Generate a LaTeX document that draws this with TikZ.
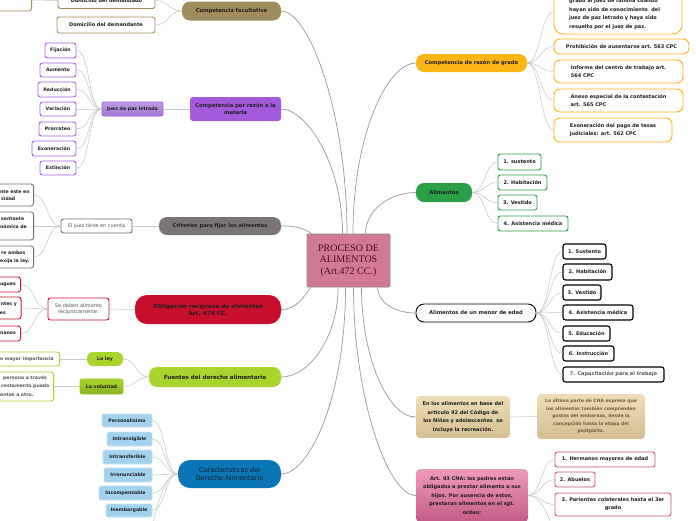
\documentclass[tikz,border=0pt]{standalone}
\usepackage{fontspec}
\setmainfont{DejaVu Sans}
\newfontfamily\cserif{Liberation Serif}
\usetikzlibrary{calc}
\definecolor{cbrown}{HTML}{A08B5D}
\definecolor{cpurple}{HTML}{A259DA}
\definecolor{cpurpleb}{HTML}{A95CEB}
\definecolor{jtop}{HTML}{BE9AE3}
\definecolor{jbot}{HTML}{A276D4}
\definecolor{cgray}{HTML}{7B7474}
\definecolor{cgrayb}{HTML}{6F6F6F}
\definecolor{ccrimson}{HTML}{C8102E}
\definecolor{clime}{HTML}{A9D42C}
\definecolor{climeb}{HTML}{9BC52A}
\definecolor{vtop}{HTML}{AAD52E}
\definecolor{vbot}{HTML}{88B420}
\definecolor{cblue}{HTML}{0B76B6}
\definecolor{clblue}{HTML}{A2D2EE}
\definecolor{clblueb}{HTML}{C5E3F4}
\definecolor{camber}{HTML}{FDB515}
\definecolor{cgreen}{HTML}{2A9F47}
\definecolor{tanA}{HTML}{EEDDB8}
\definecolor{tanB}{HTML}{D4BE92}
\definecolor{tantext}{HTML}{6E5B3C}
\definecolor{pinkA}{HTML}{EE9BBB}
\definecolor{pinkB}{HTML}{C45C87}
\definecolor{crose}{HTML}{C8546F}
\definecolor{cpink}{HTML}{D27A92}
\definecolor{cdarkred}{HTML}{4A0E1E}
\definecolor{cframe}{HTML}{8A8A8A}
\definecolor{mainlc}{HTML}{999999}
\definecolor{sublc}{HTML}{C8C8C8}
\definecolor{txt}{HTML}{1E1E1E}
\definecolor{txtg}{HTML}{555555}
\definecolor{navytxt}{HTML}{0E1C2C}
\newcommand\topicfont{\fontsize{5.2}{6.5}\selectfont\bfseries}
\newcommand\leaffont{\fontsize{5}{6.2}\selectfont\bfseries}
\newcommand\smleaf{\fontsize{4.7}{6}\selectfont\bfseries}
\newcommand\regfont{\fontsize{5}{6.5}\selectfont}
\newcommand\fragfont{\fontsize{4.6}{6}\selectfont\bfseries}
\tikzset{
  topic/.style={rounded corners=8pt, inner sep=1pt, font=\topicfont, text=txt},
  leaf/.style={draw, fill=white, rounded corners=2.5pt, line width=0.9pt, inner sep=1pt, font=\leaffont, text=txt},
  pleaf/.style={leaf, draw=cpurpleb, font=\smleaf},
  bleaf/.style={fill=clblue, draw=clblueb, rounded corners=1.5pt, line width=0.6pt, inner sep=1pt, font=\smleaf, text=txt},
  aleaf/.style={leaf, draw=camber, rounded corners=6pt},
  gleaf/.style={leaf, draw=cgreen},
  kleaf/.style={leaf, draw=black, line width=1.1pt},
  rleaf/.style={leaf, draw=crose},
  frag/.style={inner sep=0pt, font=\fragfont, text=txt, anchor=west},
  mainl/.style={draw=mainlc, line width=0.7pt},
  subl/.style={draw=sublc, line width=0.55pt},
}
\begin{document}
\begin{tikzpicture}[x=1pt,y=-1pt]
\useasboundingbox (0,0) rectangle (696,520);
\clip (0,0) rectangle (696,520);
\fill[white] (0,0) rectangle (696,520);

% central node
\node[draw=cframe, fill=cpink, line width=0.8pt, rounded corners=1pt, minimum width=83pt, minimum height=53pt, align=center, font=\cserif\fontsize{10}{11.5}\selectfont, text=cdarkred] (pa) at (348.5,260.5) {PROCESO DE\\ALIMENTOS\\(Art.472 CC.)};

% Competencia facultativa
\node[topic, fill=cbrown, minimum width=99pt, minimum height=19pt] (cf) at (231.5,11) {Competencia facultativa};
\node[leaf, draw=cbrown, minimum width=97pt, minimum height=16pt] (dda) at (106.5,0.5) {Domicilio del demandado};
\node[leaf, draw=cbrown, minimum width=98pt, minimum height=16pt] (dde) at (106,25) {Domicilio del demandante};
\node[leaf, draw=cbrown, minimum width=80pt, minimum height=22pt, anchor=east] (cfx) at (32,0) {};

% Competencia por razon a la materia
\node[topic, fill=cpurple, minimum width=91pt, minimum height=24pt, rounded corners=3pt, align=center] (cm) at (235.5,109) {Competencia por razón a la\\materia};
\node[draw=cpurpleb, line width=0.9pt, top color=jtop, bottom color=jbot, rounded corners=2pt, inner sep=1pt, font=\smleaf, text=txt, minimum width=61pt, minimum height=14pt] (jp) at (132.5,109) {Juez de paz letrado};
\node[pleaf, minimum width=31pt, minimum height=15pt] (fij) at (60.5,50.5) {Fijación};
\node[pleaf, minimum width=36pt, minimum height=14pt] (aum) at (58,70) {Aumento};
\node[pleaf, minimum width=38pt, minimum height=15pt] (red) at (57,89.5) {Reducción};
\node[pleaf, minimum width=36pt, minimum height=14pt] (var) at (58,109) {Variación};
\node[pleaf, minimum width=37pt, minimum height=14pt] (pro) at (57.5,129) {Prorrateo};
\node[pleaf, minimum width=44pt, minimum height=15pt] (exo) at (54,148.5) {Exoneración};
\node[pleaf, minimum width=36pt, minimum height=14pt] (ext) at (58,168) {Extinción};

% Criterios
\node[topic, fill=cgray, minimum width=122pt, minimum height=18pt] (cr) at (220,226) {Criterios para fijar los alimentos};
\node[leaf, draw=cgrayb, font=\regfont, text=txtg, minimum width=71pt, minimum height=14pt] (jc) at (96.5,226) {El juez tiene en cuenta};
\node[leaf, draw=cgrayb, minimum width=80pt, minimum height=22pt, anchor=east] (cr1) at (34,195) {};
\node[leaf, draw=cgrayb, minimum width=80pt, minimum height=28pt, anchor=east] (cr2) at (34,226) {};
\node[leaf, draw=cgrayb, minimum width=80pt, minimum height=22pt, anchor=east] (cr3) at (34,257) {};
\node[frag] (t11) at (0,191.5) {nte este en};
\node[frag] (t12) at (1,199) {sidad};
\node[frag] (t21) at (1,219) {sentante};
\node[frag] (t22) at (0,226.5) {nómica de};
\node[frag] (t31) at (1,253) {re ambos};
\node[frag] (t32) at (0,261) {exija la ley.};

% Obligacion
\node[topic, fill=ccrimson, minimum width=146pt, minimum height=29pt, rounded corners=12pt, align=center, font=\fontsize{5.7}{7.4}\selectfont\bfseries] (ob) at (208,309.5) {Obligación reciproca de alimentos\\Art. 474 CC.};
\node[leaf, draw=ccrimson, font=\regfont, text=txtg, minimum width=61pt, minimum height=22pt, align=center] (sd) at (78.5,309) {Se deben alimento\\reciprocamente:};
\node[leaf, draw=ccrimson, minimum width=60pt, minimum height=15pt, anchor=east] (ob1) at (21,284.5) {};
\node[leaf, draw=ccrimson, minimum width=60pt, minimum height=22pt, anchor=east] (ob2) at (21.5,308) {};
\node[leaf, draw=ccrimson, minimum width=60pt, minimum height=15pt, anchor=east] (ob3) at (21,333.5) {};
\node[frag, anchor=east] (u1) at (16,285) {ugues};
\node[frag, anchor=east] (u21) at (17,304) {ntes y};
\node[frag, anchor=east] (u22) at (6,313.5) {es};
\node[frag, anchor=east] (u3) at (16,333) {manos};

% Fuentes
\node[topic, fill=clime, minimum width=132pt, minimum height=20pt, font=\fontsize{5.6}{6.5}\selectfont\bfseries] (fu) at (215,377) {Fuentes del derecho alimentario};
\node[topic, fill=clime, rounded corners=6pt, minimum width=36pt, minimum height=14pt, font=\smleaf] (ley) at (105,359) {La ley};
\node[topic, draw=climeb, line width=0.6pt, top color=vtop, bottom color=vbot, rounded corners=2pt, minimum width=43pt, minimum height=15pt, font=\smleaf] (vol) at (101.5,386.5) {La voluntad};
\node[leaf, draw=clime, minimum width=80pt, minimum height=14pt, anchor=east] (fu1) at (60,359) {};
\node[leaf, draw=clime, minimum width=80pt, minimum height=29pt, anchor=east] (fu2) at (54,386.5) {};
\node[frag, text=txtg] (v1) at (0,359) {e mayor importancia};
\node[frag, text=txtg] (v21) at (3,378.5) {persona a través};
\node[frag, text=txtg] (v22) at (1,386.5) {cestamento pueda};
\node[frag, text=txtg] (v23) at (0,394.5) {entos a otro.};

% Caracteristicas
\node[topic, fill=cblue, minimum width=103pt, minimum height=28pt, rounded corners=12pt, align=center, font=\fontsize{6.6}{8.4}\selectfont, text=navytxt] (ca) at (229.5,474) {Caracteristicas del\\Derecho Alimentario};
\node[bleaf, minimum width=50pt, minimum height=13pt] (ca1) at (127,420.5) {Personalisimo};
\node[bleaf, minimum width=45pt, minimum height=14pt] (ca2) at (129.5,439) {Intransigible};
\node[bleaf, minimum width=49pt, minimum height=14pt] (ca3) at (127.5,457) {Intransferible};
\node[bleaf, minimum width=48pt, minimum height=14pt] (ca4) at (128,475) {Irrenunciable};
\node[bleaf, minimum width=53pt, minimum height=14pt] (ca5) at (125.5,493) {Incompensable};
\node[bleaf, minimum width=46pt, minimum height=13pt] (ca6) at (129,510.5) {Inembargable};
\coordinate (ca7) at (152,530);

% Competencia de razon de grado
\node[topic, fill=camber, minimum width=111pt, minimum height=18pt] (gr) at (471.5,63) {Competencia de razón de grado};
\node[aleaf, rounded corners=9pt, minimum width=128pt, minimum height=44pt] (gbig) at (618,12) {};
\node[inner sep=0pt, anchor=west, align=left, font=\fontsize{5}{8.67}\selectfont\bfseries, text=txt] (gbt) at (569,14) {grado al juez de familia cuando\\hayan sido de conocimiento\ \ del\\juez de paz letrado y haya sido\\resuelto por el juez de paz.};
\node[aleaf, minimum width=135pt, minimum height=15pt] (g1) at (621.5,46.5) {Prohibición de ausentarse art. 563 CPC};
\node[aleaf, minimum width=129pt, minimum height=23pt, align=left, font=\fontsize{5}{8}\selectfont\bfseries] (g2) at (618.5,71.5) {Informe del centro de trabajo art.\\564 CPC};
\node[aleaf, minimum width=129pt, minimum height=23pt, align=left, font=\fontsize{5}{8}\selectfont\bfseries] (g3) at (618.5,100.5) {Anexo especial de la contestación\\art. 565 CPC};
\node[aleaf, minimum width=118pt, minimum height=24pt, align=left, font=\fontsize{5}{8}\selectfont\bfseries] (g4) at (613,130) {Exoneración del pago de tasas\\judiciales: art. 562 CPC};

% Alimentos
\node[topic, fill=cgreen, minimum width=56pt, minimum height=19pt] (al) at (444,192.5) {Alimentos};
\node[gleaf, minimum width=43pt, minimum height=16pt] (al1) at (519.5,162) {1. sustento};
\node[gleaf, minimum width=49pt, minimum height=15pt] (al2) at (522.5,182.5) {2. Habitación};
\node[gleaf, minimum width=39pt, minimum height=15pt] (al3) at (517.5,202.5) {3. Vestido};
\node[gleaf, minimum width=70pt, minimum height=15pt] (al4) at (533,223.5) {4. Asistencia médica};

% Alimentos de un menor de edad
\node[topic, draw=black, fill=white, line width=0.9pt, minimum width=120pt, minimum height=18pt] (me) at (476,313) {Alimentos de un menor de edad};
\node[kleaf, minimum width=43pt, minimum height=15pt] (me1) at (584.5,251.5) {1. Sustento};
\node[kleaf, minimum width=49pt, minimum height=16pt] (me2) at (587.5,272) {2. Habitación};
\node[kleaf, minimum width=38pt, minimum height=15pt] (me3) at (582,292.5) {3. Vestido};
\node[kleaf, minimum width=70pt, minimum height=15pt] (me4) at (598,312.5) {4. Asistencia médica};
\node[kleaf, minimum width=47pt, minimum height=15pt] (me5) at (586.5,333.5) {5. Educación};
\node[kleaf, minimum width=51pt, minimum height=15pt] (me6) at (588.5,353.5) {6. Instrucción};
\node[kleaf, minimum width=101pt, minimum height=15pt, text=txtg] (me7) at (613.5,374.5) {7. Capacitación para el trabajo};

% Tan nodes
\node[topic, top color=tanA, bottom color=tanB, rounded corners=4pt, minimum width=94pt, minimum height=42pt, align=center, font=\fontsize{5}{8.6}\selectfont\bfseries] (en) at (463,417) {En los alimentos en base del\\artículo 92 del Código de\\los Niños y adolescentes\ \ se\\incluye la recreación.};
\node[topic, top color=tanA, bottom color=tanB, rounded corners=4pt, minimum width=108pt, minimum height=45pt, align=center, font=\fontsize{4.5}{7.5}\selectfont\bfseries, text=tantext] (lu) at (591,416.5) {La última parte de CNA expresa que\\los alimentos también comprenden\\gastos del embarazo, desde la\\concepción hasta la etapa del\\postparto.};

% Art 93
\node[topic, top color=pinkA, bottom color=pinkB, rounded corners=4pt, minimum width=112pt, minimum height=53pt, align=center, font=\fontsize{5}{8.5}\selectfont\bfseries] (a93) at (472,495.5) {Art. 93 CNA: los padres están\\obligados a prestar alimento a sus\\hijos. Por ausencia de estos,\\prestaran alimentos en el sgt.\\orden:};
\node[rleaf, minimum width=100pt, minimum height=15pt] (a1) at (605,459.5) {1. Hermanos mayores de edad};
\node[rleaf, minimum width=40pt, minimum height=15pt] (a2) at (575,479.5) {2. Abuelos};
\node[rleaf, minimum width=116pt, minimum height=23pt, align=center, font=\fontsize{5}{8}\selectfont\bfseries] (a3) at (613,504.5) {3. Parientes colaterales hasta el 3er\\grado};
\coordinate (a4) at (555,540);

% ---------- main connectors ----------
\draw[mainl] (cf.east) .. controls +(28,0) and +(0,-120) .. ($(pa.north)+(-1.5,0)$);
\draw[mainl] (cm.east) .. controls +(25,0) and +(0,-70) .. ($(pa.north)+(-6,0)$);
\draw[mainl] (cr.east) .. controls +(16,0) and +(-8,-5) .. ($(pa.north west)+(5,0)$);
\draw[mainl] (gr.west) .. controls +(-28,0) and +(0,-100) .. ($(pa.north)+(4.5,0)$);
\draw[mainl] (al.west) .. controls +(-28,0) and +(0,-22) .. ($(pa.north)+(17,0)$);
\draw[mainl] (ob.east) .. controls +(16,0) and +(-6,8) .. ($(pa.south west)+(4,0)$);
\draw[mainl] (fu.east) .. controls +(28,0) and +(0,50) .. ($(pa.south)+(-10.5,0)$);
\draw[mainl] (ca.east) .. controls +(28,0) and +(0,110) .. ($(pa.south)+(-3,0)$);
\draw[mainl] (me.west) .. controls +(-22,0) and +(0,14) .. ($(pa.south)+(29,0)$);
\draw[mainl] (en.west) .. controls +(-28,0) and +(0,70) .. ($(pa.south)+(13,0)$);
\draw[mainl] (a93.west) .. controls +(-28,0) and +(0,110) .. ($(pa.south)+(5,0)$);

% ---------- sub connectors ----------
\foreach \c in {dda,dde} \draw[subl] (cf.west) .. controls +(-13,0) and +(13,0) .. (\c.east);
\draw[subl] (dda.west) .. controls +(-12,0) and +(12,0) .. (cfx.east);
\draw[subl] (cm.west) -- (jp.east);
\foreach \c in {fij,aum,red,var,pro,exo,ext} \draw[subl] (jp.west) .. controls +(-14,0) and +(14,0) .. (\c.east);
\draw[subl] (cr.west) -- (jc.east);
\foreach \c in {cr1,cr2,cr3} \draw[subl] (jc.west) .. controls +(-14,0) and +(14,0) .. (\c.east);
\draw[subl] (ob.west) -- (sd.east);
\foreach \c in {ob1,ob2,ob3} \draw[subl] (sd.west) .. controls +(-14,0) and +(14,0) .. (\c.east);
\foreach \c in {ley,vol} \draw[subl] (fu.west) .. controls +(-13,0) and +(13,0) .. (\c.east);
\draw[subl] (ley.west) -- (fu1.east);
\draw[subl] (vol.west) -- (fu2.east);
\foreach \c in {ca1,ca2,ca3,ca4,ca5,ca6} \draw[subl] (ca.west) .. controls +(-13,0) and +(13,0) .. (\c.east);
\draw[subl] (ca.west) .. controls +(-13,0) and +(3,-20) .. (ca7);
\foreach \c in {gbig,g1,g2,g3,g4} \draw[subl] (gr.east) .. controls +(13,0) and +(-13,0) .. (\c.west);
\foreach \c in {al1,al2,al3,al4} \draw[subl] (al.east) .. controls +(13,0) and +(-13,0) .. (\c.west);
\foreach \c in {me1,me2,me3,me4,me5,me6,me7} \draw[subl] (me.east) .. controls +(13,0) and +(-13,0) .. (\c.west);
\draw[subl] (en.east) -- (lu.west);
\foreach \c in {a1,a2,a3} \draw[subl] (a93.east) .. controls +(13,0) and +(-13,0) .. (\c.west);
\draw[subl] (a93.east) .. controls +(13,0) and +(-3,-20) .. (a4);
\end{tikzpicture}
\end{document}
